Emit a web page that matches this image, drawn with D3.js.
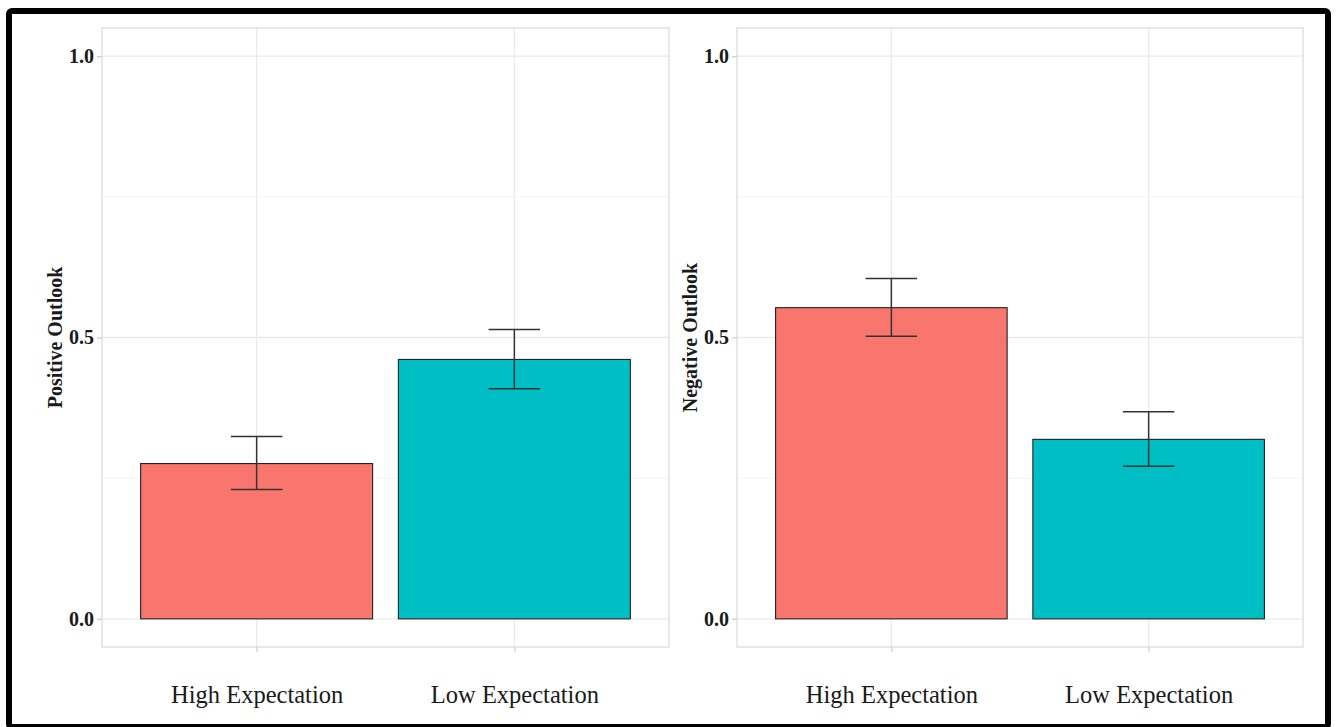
<!DOCTYPE html>
<html>
<head>
<meta charset="utf-8">
<script src="https://cdn.jsdelivr.net/npm/d3@7"></script>
<style>
  html, body { margin: 0; padding: 0; background: #fff; }
  svg { display: block; }
</style>
</head>
<body>
<svg id="chart" width="1339" height="727"></svg>
<script>
// Groups and outcome measures
const categories = ["High Expectation", "Low Expectation"];
const panelTitles = ["Positive Outlook", "Negative Outlook"];
const colors = ["#F8766D", "#00BFC4"];

// Mean proportions with upper / lower error limits, one array per panel
const positiveMean  = [0.276, 0.461];
const positiveUpper = [0.324, 0.514];
const positiveLower = [0.230, 0.409];
const negativeMean  = [0.553, 0.319];
const negativeUpper = [0.605, 0.368];
const negativeLower = [0.502, 0.271];

const yTicks = [0.0, 0.5, 1.0];
const yMinor = [0.25, 0.75];

const panels = [
  { title: panelTitles[0], mean: positiveMean, upper: positiveUpper, lower: positiveLower, x0: 102, x1: 669 },
  { title: panelTitles[1], mean: negativeMean, upper: negativeUpper, lower: negativeLower, x0: 737, x1: 1303 }
];

const svg = d3.select("#chart");
const plotTop = 28, plotBottom = 647;

// Outer frame
svg.append("rect")
  .attr("x", 9).attr("y", 11)
  .attr("width", 1319).attr("height", 716)
  .attr("rx", 3)
  .attr("fill", "none")
  .attr("stroke", "#000")
  .attr("stroke-width", 6);

const y = d3.scaleLinear().domain([-0.05, 1.05]).range([plotBottom, plotTop]);

panels.forEach(p => {
  const g = svg.append("g");
  const w = p.x1 - p.x0;
  // discrete axis with 0.6 expansion on each side
  const x = d3.scalePoint().domain(categories).range([p.x0 + w * 0.6 / 2.2, p.x1 - w * 0.6 / 2.2]);
  const step = w / 2.2;
  const barW = step * 0.9;
  const errW = step * 0.2;

  // minor grid
  g.selectAll(".minor").data(yMinor).join("line")
    .attr("x1", p.x0).attr("x2", p.x1)
    .attr("y1", d => y(d)).attr("y2", d => y(d))
    .attr("stroke", "#f4f4f4").attr("stroke-width", 1);
  // major grid
  g.selectAll(".major").data(yTicks).join("line")
    .attr("x1", p.x0).attr("x2", p.x1)
    .attr("y1", d => y(d)).attr("y2", d => y(d))
    .attr("stroke", "#ebebeb").attr("stroke-width", 1.3);
  g.selectAll(".vgrid").data(categories).join("line")
    .attr("x1", d => x(d)).attr("x2", d => x(d))
    .attr("y1", plotTop).attr("y2", plotBottom)
    .attr("stroke", "#ebebeb").attr("stroke-width", 1.3);

  // bars
  g.selectAll(".bar").data(categories).join("rect")
    .attr("x", d => x(d) - barW / 2)
    .attr("width", barW)
    .attr("y", (d, i) => y(p.mean[i]))
    .attr("height", (d, i) => y(0) - y(p.mean[i]))
    .attr("fill", (d, i) => colors[i])
    .attr("stroke", "#222")
    .attr("stroke-width", 1.1);

  // error bars
  const eb = g.selectAll(".err").data(categories).join("g");
  eb.append("line")
    .attr("x1", d => x(d)).attr("x2", d => x(d))
    .attr("y1", (d, i) => y(p.upper[i])).attr("y2", (d, i) => y(p.lower[i]));
  eb.append("line")
    .attr("x1", d => x(d) - errW / 2).attr("x2", d => x(d) + errW / 2)
    .attr("y1", (d, i) => y(p.upper[i])).attr("y2", (d, i) => y(p.upper[i]));
  eb.append("line")
    .attr("x1", d => x(d) - errW / 2).attr("x2", d => x(d) + errW / 2)
    .attr("y1", (d, i) => y(p.lower[i])).attr("y2", (d, i) => y(p.lower[i]));
  eb.selectAll("line").attr("stroke", "#333").attr("stroke-width", 1.5);

  // panel border
  g.append("rect")
    .attr("x", p.x0).attr("y", plotTop)
    .attr("width", w).attr("height", plotBottom - plotTop)
    .attr("fill", "none")
    .attr("stroke", "#dcdcdc").attr("stroke-width", 1.3);

  // y axis
  const yAxis = d3.axisLeft(y).tickValues(yTicks).tickFormat(d3.format(".1f")).tickSize(5).tickPadding(3);
  const ya = g.append("g").attr("transform", `translate(${p.x0},0)`).call(yAxis);
  ya.select(".domain").remove();
  ya.selectAll(".tick line").attr("stroke", "#cfcfcf").attr("stroke-width", 1.3);
  ya.selectAll(".tick text")
    .attr("fill", "#1a1a1a")
    .style("font-family", "'Liberation Serif', 'Times New Roman', serif")
    .style("font-weight", "bold")
    .style("font-size", "20px");

  // x axis
  const xAxis = d3.axisBottom(x).tickSize(5).tickPadding(34);
  const xa = g.append("g").attr("transform", `translate(0,${plotBottom})`).call(xAxis);
  xa.select(".domain").remove();
  xa.selectAll(".tick line").attr("stroke", "#cfcfcf").attr("stroke-width", 1.3);
  xa.selectAll(".tick text")
    .attr("fill", "#1a1a1a")
    .style("font-family", "'Liberation Serif', 'Times New Roman', serif")
    .style("font-size", "24.5px");

  // y axis title
  g.append("text")
    .attr("transform", `translate(${p.x0 - 40},${(plotTop + plotBottom) / 2}) rotate(-90)`)
    .attr("text-anchor", "middle")
    .attr("fill", "#1a1a1a")
    .style("font-family", "'Liberation Serif', 'Times New Roman', serif")
    .style("font-weight", "bold")
    .style("font-size", "20px")
    .text(p.title);
});
</script>
</body>
</html>
